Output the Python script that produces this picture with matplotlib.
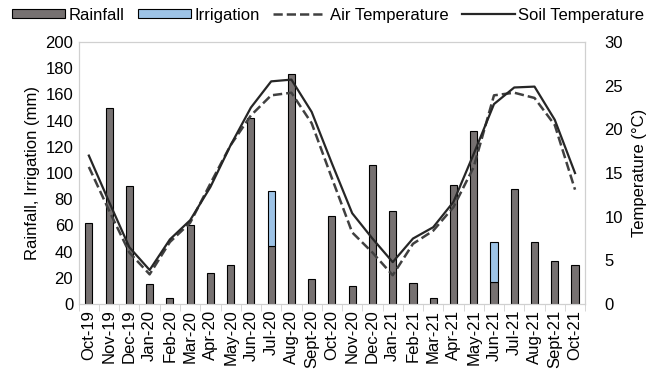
import numpy as np
import matplotlib.pyplot as plt
from matplotlib.patches import Patch

plt.rcParams['font.family'] = ['Liberation Sans', 'DejaVu Sans']

months = ['Oct-19', 'Nov-19', 'Dec-19', 'Jan-20', 'Feb-20', 'Mar-20', 'Apr-20', 'May-20',
          'Jun-20', 'Jul-20', 'Aug-20', 'Sept-20', 'Oct-20', 'Nov-20', 'Dec-20', 'Jan-21',
          'Feb-21', 'Mar-21', 'Apr-21', 'May-21', 'Jun-21', 'Jul-21', 'Aug-21', 'Sept-21',
          'Oct-21']
rainfall = [62, 150, 90, 15, 5, 60, 24, 30, 142, 44, 176, 19, 67, 14, 106, 71,
            16, 4.5, 91, 132, 16.5, 88, 47, 33, 30]
irrigation = [0, 0, 0, 0, 0, 0, 0, 0, 0, 42, 0, 0, 0, 0, 0, 0,
              0, 0, 0, 0, 30.5, 0, 0, 0, 0]
air_temp = [15.7, 10.7, 5.9, 3.4, 7.1, 9.3, 13.8, 18.2, 21.6, 23.9, 24.2, 20.7, 14.4,
            8.2, 5.9, 3.3, 6.9, 8.4, 11.1, 15.7, 23.9, 24.2, 23.6, 20.5, 13.1]
soil_temp = [17.0, 11.7, 6.5, 3.9, 7.4, 9.6, 13.4, 18.2, 22.5, 25.5, 25.7, 22.0, 16.1,
             10.4, 7.5, 4.8, 7.5, 8.8, 11.7, 17.2, 22.9, 24.8, 24.9, 21.1, 15.0]

x = np.arange(len(months))
fs = 12

fig = plt.figure(figsize=(6.56, 3.69), dpi=100)
ax = fig.add_axes([0.120, 0.176, 0.772, 0.710])
ax2 = ax.twinx()

ax.bar(x, rainfall, width=0.35, color='#767171', edgecolor='black', linewidth=0.8, zorder=2)
b2 = ax.bar(x, irrigation, width=0.35, bottom=rainfall, color='#9DC3E6', edgecolor='black',
            linewidth=0.8, zorder=2)
# hide zero-height irrigation bars
for r, v in zip(b2, irrigation):
    if v == 0:
        r.set_visible(False)

l1, = ax2.plot(x, air_temp, color='#404040', linestyle='--', linewidth=1.8,
               label='Air Temperature')
l2, = ax2.plot(x, soil_temp, color='#262626', linestyle='-', linewidth=1.6,
               label='Soil Temperature')

ax.set_xlim(-0.5, len(months) - 0.5)
ax.set_ylim(0, 200)
ax.set_yticks(np.arange(0, 201, 20))
ax2.set_ylim(0, 30)
ax2.set_yticks(np.arange(0, 31, 5))

ax.set_xticks(x)
ax.set_xticklabels(months, rotation=90, fontsize=fs)
ax.set_xticks(np.arange(-0.5, len(months), 1), minor=True)
ax.tick_params(axis='x', which='major', length=0, pad=4)
ax.tick_params(axis='x', which='minor', length=5, color='#d0d0d0')
ax.tick_params(axis='y', length=0, labelsize=fs, pad=4)
ax2.tick_params(axis='y', length=0, labelsize=fs, pad=14)

ax.set_ylabel('Rainfall, Irrigation (mm)', fontsize=fs, labelpad=4)
ax2.set_ylabel('Temperature (°C)', fontsize=fs, labelpad=6)

for a in (ax, ax2):
    for s in a.spines.values():
        s.set_color('#d0d0d0')

handles = [Patch(facecolor='#767171', edgecolor='black', linewidth=0.8, label='Rainfall'),
           Patch(facecolor='#9DC3E6', edgecolor='black', linewidth=0.8, label='Irrigation'),
           l1, l2]
fig.legend(handles=handles, loc='upper center', bbox_to_anchor=(0.5, 1.02),
           ncol=4, frameon=False, fontsize=fs, handlelength=3.2, handleheight=0.5,
           handletextpad=0.2, columnspacing=0.8)

fig.savefig('out.png', dpi=100)
